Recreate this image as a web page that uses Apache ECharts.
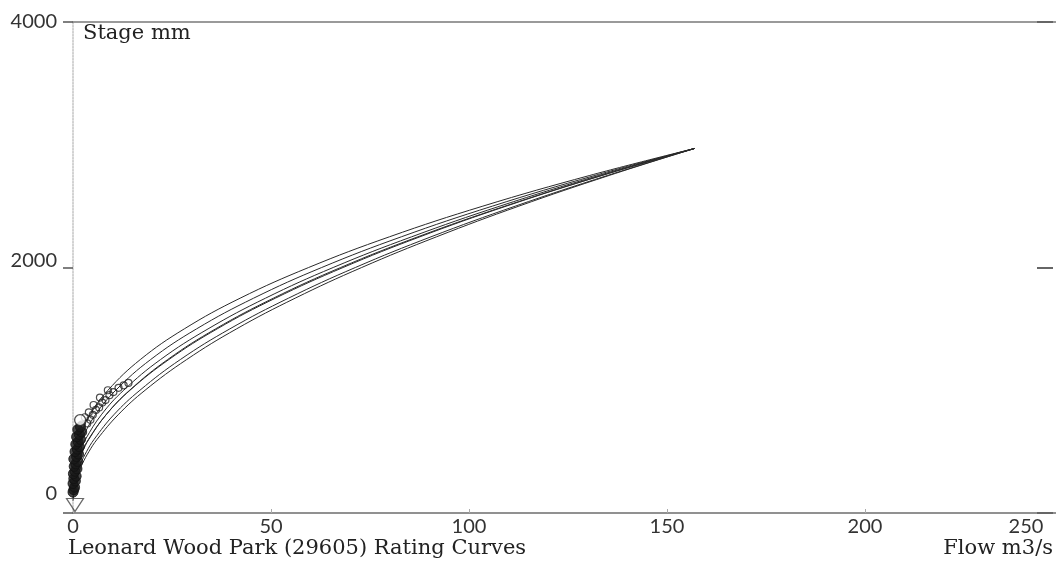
<!DOCTYPE html>
<html>
<head>
<meta charset="utf-8">
<script src="https://cdn.jsdelivr.net/npm/echarts@6/dist/echarts.min.js"></script>
<style>html,body{margin:0;padding:0;background:#fff}#c{width:1056px;height:569px}</style>
</head>
<body>
<div id="c"></div>
<script>
// Tick labels
const xTicks = [0, 50, 100, 150, 200, 250];
const yTicks = [0, 2000, 4000];
const chartTitle = 'Leonard Wood Park (29605) Rating Curves';
const yName = 'Stage mm';
const xName = 'Flow m3/s';

// Rating curves: [flow m3/s, stage mm]
const curve1 = [[0,300],[0.14,400],[0.6,500],[1.43,600],[4.28,800],[8.83,1000],[17.0,1250],[28.1,1500],[42.2,1750],[59.5,2000],[79.9,2250],[103.5,2500],[130.5,2750],[157,2970]];
const curve2 = [[0,250],[0.04,300],[0.38,400],[1.10,500],[2.21,600],[5.65,800],[10.8,1000],[19.6,1250],[31.2,1500],[45.6,1750],[62.8,2000],[82.9,2250],[105.9,2500],[131.8,2750],[157,2970]];
const curve3 = [[0,200],[0.19,300],[0.78,400],[1.76,500],[3.15,600],[7.15,800],[12.8,1000],[22.1,1250],[34.1,1500],[48.6,1750],[65.7,2000],[85.5,2250],[107.8,2500],[132.8,2750],[157,2970]];
const curve4 = [[0,150],[0.44,300],[1.23,400],[2.42,500],[4.0,600],[8.34,800],[14.3,1000],[23.9,1250],[36.0,1500],[50.6,1750],[67.6,2000],[87.1,2250],[109.1,2500],[133.5,2750],[157,2970]];
const curve5 = [[0,180],[0.34,300],[1.11,400],[2.30,500],[3.90,600],[8.35,800],[14.4,1000],[24.2,1250],[36.4,1500],[51.1,1750],[68.2,2000],[87.6,2250],[109.4,2500],[133.6,2750],[157,2970]];
const curve6 = [[0,120],[0.83,300],[1.91,400],[3.42,500],[5.33,600],[10.3,800],[16.9,1000],[27.1,1250],[39.6,1500],[54.4,1750],[71.3,2000],[90.4,2250],[111.7,2500],[135.0,2750],[157,2970]];
const curve7 = [[0,100],[1.11,300],[2.36,400],[4.02,500],[6.09,600],[11.4,800],[18.2,1000],[28.7,1250],[41.3,1500],[56.1,1750],[72.9,2000],[91.8,2250],[112.6,2500],[135.4,2750],[157,2970]];

// Gaugings: [flow m3/s, stage mm]
const gaugingsLow = [[0.0,170],[0.2,190],[0.4,210],[0.0,240],[0.6,260],[0.2,280],[0.8,300],[0.1,320],[0.5,340],[1.0,360],[0.3,380],[0.7,400],[1.2,420],[0.2,440],[0.9,460],[1.4,480],[0.5,500],[1.1,520],[1.6,540],[0.7,560],[1.3,580],[1.9,600],[0.9,620],[1.6,640],[2.2,660],[1.2,680],[1.9,700]];
const gaugingsHigh = [[2.2,720],[3.6,730],[4.4,760],[3.0,780],[5.0,800],[4.0,820],[5.8,840],[6.6,860],[5.2,880],[7.4,900],[8.2,920],[6.8,940],[9.2,960],[10.2,985],[8.8,1000],[11.5,1020],[12.8,1040],[14.0,1060]];
const gaugingCircle = [[1.8,757]];
const zeroFlow = [[0.5,65]];

const curves = [curve1, curve2, curve3, curve4, curve5, curve6, curve7];

const chart = echarts.init(document.getElementById('c'), null, {renderer: 'canvas'});
const tickFont = {fontFamily: 'Lato', fontSize: 20, color: '#333'};
const serif = {fontFamily: 'DejaVu Serif', fontSize: 21, fontWeight: 'normal', color: '#222'};

const series = curves.map((c, i) => ({
  type: 'line', name: 'Curve ' + (i + 1), data: c, xAxisIndex: 0, yAxisIndex: 0,
  smooth: 0.4, showSymbol: false, symbol: 'none',
  lineStyle: {color: '#2a2a2a', width: 1}, z: 3
}));
series.push({
  type: 'scatter', name: 'Gaugings low', data: gaugingsLow, symbol: 'circle', symbolSize: 10,
  itemStyle: {color: '#1a1a1a', borderColor: '#111', borderWidth: 1}, z: 4
});
series.push({
  type: 'scatter', name: 'Gaugings', data: gaugingsHigh, symbol: 'circle', symbolSize: 7,
  itemStyle: {color: 'rgba(255,255,255,0)', borderColor: '#222', borderWidth: 1.2}, z: 4
});
series.push({
  type: 'scatter', name: 'Gauging', data: gaugingCircle, symbol: 'circle', symbolSize: 11,
  itemStyle: {color: '#fff', borderColor: '#222', borderWidth: 1.3}, z: 5
});
series.push({
  type: 'scatter', name: 'Zero flow', data: zeroFlow, symbol: 'triangle', symbolRotate: 180, symbolSize: [17, 13],
  itemStyle: {color: 'rgba(255,255,255,0)', borderColor: '#444', borderWidth: 1.2}, z: 5
});

const option = {
  animation: false,
  backgroundColor: '#ffffff',
  grid: {left: 73, top: 22, right: -7, bottom: 56, outerBoundsMode: 'none', containLabel: false},
  title: [
    {text: yName, left: 83, top: 23, padding: 0, textStyle: serif},
    {text: chartTitle, left: 68, top: 538, padding: 0, textStyle: serif},
    {text: xName, right: 3, top: 538, padding: 0, textStyle: serif}
  ],
  xAxis: [
    {
      type: 'value', position: 'bottom', min: xTicks[0], max: xTicks[xTicks.length - 1], interval: 50,
      axisLine: {show: true, onZero: false, lineStyle: {color: '#6e6e6e', width: 1.5}},
      axisTick: {show: true, inside: true, length: 4, lineStyle: {color: '#aaa'}},
      splitLine: {show: false},
      axisLabel: {
        margin: 4, ...tickFont,
        formatter: v => (v === xTicks[xTicks.length - 1] ? '{last|' + v + '}' : '{n|' + v + '}'),
        rich: {n: {...tickFont}, last: {...tickFont, padding: [0, 74, 0, 0]}}
      }
    },
    {
      type: 'value', position: 'top', min: xTicks[0], max: xTicks[xTicks.length - 1],
      axisLine: {show: true, onZero: false, lineStyle: {color: '#7a7a7a', width: 1.5}},
      axisTick: {show: false}, axisLabel: {show: false}, splitLine: {show: false}
    }
  ],
  yAxis: [
    {
      type: 'value', position: 'left', min: yTicks[0], max: yTicks[yTicks.length - 1], interval: 2000,
      axisLine: {show: true, onZero: false, lineStyle: {color: '#c4c4c4', type: 'dotted', width: 1.5}},
      axisTick: {show: true, length: 10, lineStyle: {color: '#555', width: 1.5}},
      splitLine: {show: false},
      axisLabel: {
        margin: 16, ...tickFont,
        formatter: v => (v === 0 ? '{z|' + v + '}' : v === 2000 ? '{m|' + v + '}' : '{t|' + v + '}'),
        rich: {
          t: {...tickFont},
          m: {...tickFont, padding: [0, 0, 14, 0]},
          z: {...tickFont, padding: [0, 0, 38, 0]}
        }
      }
    },
    {
      type: 'value', position: 'right', offset: -10, min: yTicks[0], max: yTicks[yTicks.length - 1], interval: 2000,
      axisLine: {show: false, onZero: false},
      axisTick: {show: true, inside: true, length: 16, lineStyle: {color: '#666', width: 2}},
      axisLabel: {show: false}, splitLine: {show: false}
    }
  ],
  series: series
};
chart.setOption(option);
</script>
</body>
</html>
